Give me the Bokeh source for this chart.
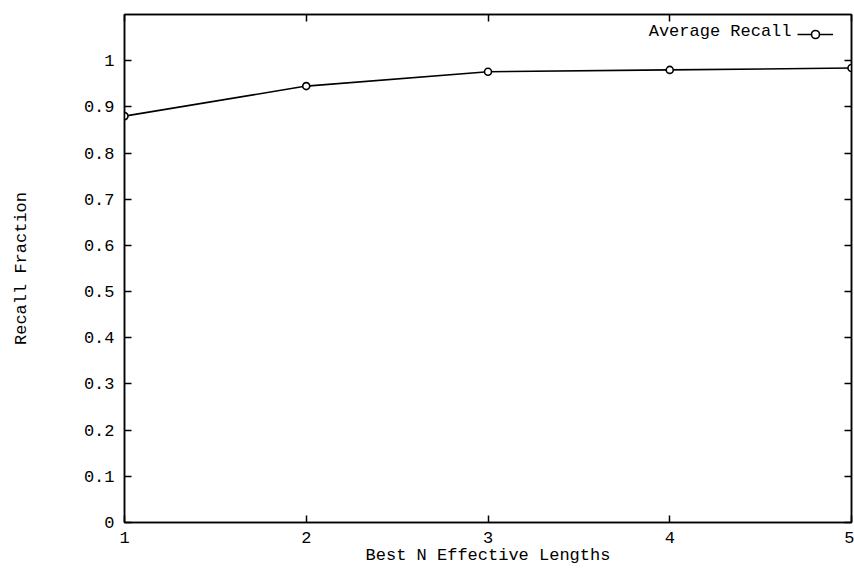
from bokeh.plotting import figure
from bokeh.models import LinearAxis, FixedTicker, Legend, LegendItem, Label, CustomLabelingPolicy
from bokeh.embed import file_html
from bokeh.resources import INLINE

best_n = [1, 2, 3, 4, 5]
avg_recall = [0.88, 0.945, 0.976, 0.980, 0.984]
x_ticks = [1, 2, 3, 4, 5]
y_ticks = [0, 0.1, 0.2, 0.3, 0.4, 0.5, 0.6, 0.7, 0.8, 0.9, 1.0]
y_tick_labels = ["0", "0.1", "0.2", "0.3", "0.4", "0.5", "0.6", "0.7", "0.8", "0.9", "1"]
series_name = "Average Recall"

FONT = "Liberation Mono"
FS = "17px"

p = figure(width=854, height=573, x_range=(1, 5), y_range=(0, 1.1),
           output_backend="svg", toolbar_location=None,
           min_border_left=124, min_border_right=3, min_border_top=14, min_border_bottom=51)

p.xgrid.visible = False
p.ygrid.visible = False
p.outline_line_color = "black"
p.outline_line_width = 1.5
p.background_fill_color = "white"
p.border_fill_color = "white"

def style_axis(ax, ticks, show_labels):
    ax.ticker = FixedTicker(ticks=ticks)
    ax.major_tick_in = 7
    ax.major_tick_out = 0
    ax.minor_tick_in = 0
    ax.minor_tick_out = 0
    ax.major_tick_line_width = 1.5
    ax.axis_line_width = 1.5
    ax.axis_line_color = "black"
    ax.major_tick_line_color = "black"
    ax.major_label_text_font = FONT
    ax.major_label_text_font_size = FS if show_labels else "0px"
    ax.major_label_text_color = "black"
    ax.axis_label_text_font = FONT
    ax.axis_label_text_font_size = FS
    ax.axis_label_text_font_style = "normal"
    ax.axis_label_text_color = "black"
    if not show_labels:
        ax.major_label_policy = CustomLabelingPolicy(code="return new Set()")
        ax.major_label_standoff = 0

xa = p.xaxis[0]
style_axis(xa, x_ticks, True)
xa.axis_label = "Best N Effective Lengths"
xa.major_label_standoff = 9
xa.axis_label_standoff = 0

ya = p.yaxis[0]
style_axis(ya, y_ticks, True)
ya.major_label_overrides = {t: s for t, s in zip(y_ticks, y_tick_labels)}
ya.axis_label = "Recall Fraction"
ya.major_label_standoff = 10
ya.axis_label_standoff = 50

ra = LinearAxis()
style_axis(ra, y_ticks, False)
p.add_layout(ra, "right")

ta = LinearAxis()
style_axis(ta, x_ticks, False)
p.add_layout(ta, "above")

line_r = p.line(best_n, avg_recall, line_color="black", line_width=1.6)
pt_r = p.scatter(best_n, avg_recall, marker="circle", size=7, fill_color="white",
                 line_color="black", line_width=1.6)

legend = Legend(items=[LegendItem(label=" ", renderers=[line_r, pt_r])],
                location=(673, 478), glyph_width=36, glyph_height=20,
                label_standoff=0, padding=0, margin=0, spacing=0,
                border_line_color=None, background_fill_alpha=0,
                label_text_font=FONT, label_text_font_size="1px")
p.add_layout(legend, "center")

lab = Label(x=4.67, y=1.063, text=series_name, text_font=FONT, text_font_size=FS,
            text_align="right", text_baseline="middle", text_color="black")
p.add_layout(lab)

open("out.html", "w").write(file_html(p, INLINE))
